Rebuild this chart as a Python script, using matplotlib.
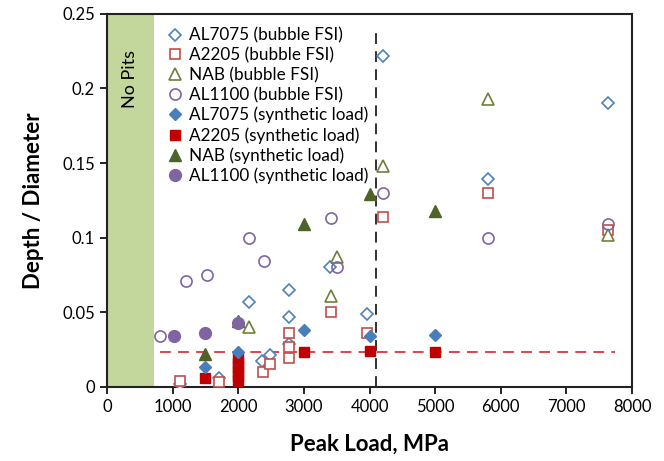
import matplotlib
matplotlib.use("Agg")
import matplotlib.pyplot as plt
from matplotlib.ticker import FuncFormatter

plt.rcParams["font.family"] = ["Lato", "DejaVu Sans"]

# Bubble FSI results (open markers)
al7075_fsi_x = [1120, 1700, 2160, 2360, 2480, 2770, 2770, 2770, 3400, 3960, 4200, 5800, 7640]
al7075_fsi_y = [0.002, 0.006, 0.057, 0.017, 0.021, 0.065, 0.047, 0.029, 0.080, 0.049, 0.222, 0.139, 0.190]

a2205_fsi_x = [1120, 1700, 2370, 2480, 2770, 2770, 2770, 3410, 3960, 4200, 5800, 7640]
a2205_fsi_y = [0.004, 0.003, 0.010, 0.015, 0.036, 0.027, 0.019, 0.050, 0.036, 0.114, 0.130, 0.105]

nab_fsi_x = [2160, 3410, 3500, 4210, 5800, 7640]
nab_fsi_y = [0.040, 0.061, 0.087, 0.148, 0.193, 0.102]

al1100_fsi_x = [810, 1200, 1520, 2170, 2400, 3410, 3500, 4200, 5800, 7640]
al1100_fsi_y = [0.034, 0.071, 0.075, 0.100, 0.084, 0.113, 0.080, 0.130, 0.100, 0.109]

# Synthetic load results (filled markers)
al7075_syn_x = [1500, 2000, 3000, 4000, 5000]
al7075_syn_y = [0.013, 0.023, 0.038, 0.034, 0.035]

a2205_syn_x = [1500, 2000, 2000, 2000, 2000, 2000, 2000, 3000, 4000, 5000]
a2205_syn_y = [0.006, 0.004, 0.007, 0.010, 0.013, 0.016, 0.019, 0.023, 0.024, 0.023]

nab_syn_x = [1500, 2000, 3000, 4000, 5000]
nab_syn_y = [0.022, 0.044, 0.109, 0.129, 0.118]

al1100_syn_x = [1020, 1500, 2000]
al1100_syn_y = [0.034, 0.036, 0.043]

# Reference lines and no-pit region
no_pits_limit = 710
threshold_load = 4100
threshold_ratio = 0.023

fig = plt.figure(figsize=(6.64, 4.61), dpi=100)
ax = fig.add_axes([0.161, 0.161, 0.791, 0.809])

ax.axvspan(0, no_pits_limit, color="#C3D69B", zorder=0, lw=0)
ax.text(no_pits_limit / 2, 0.206, "No Pits", rotation=90, ha="center", va="center",
        fontsize=13, color="black")

ax.axvline(threshold_load, ymin=0, ymax=0.96, color="#222222", ls=(0, (6, 4)), lw=1.3, zorder=1)
ax.plot([810, 7740], [threshold_ratio, threshold_ratio], color="#D9363E",
        ls=(0, (6, 4)), lw=1.3, zorder=1)

ms_open = 7.5
ax.plot(al7075_fsi_x, al7075_fsi_y, ls="none", marker="D", ms=6, mfc="white",
        mec="#4F81BD", mew=1.2, label="AL7075 (bubble FSI)", zorder=3)
ax.plot(a2205_fsi_x, a2205_fsi_y, ls="none", marker="s", ms=ms_open, mfc="white",
        mec="#C0504D", mew=1.2, label="A2205 (bubble FSI)", zorder=3)
ax.plot(nab_fsi_x, nab_fsi_y, ls="none", marker="^", ms=8, mfc="white",
        mec="#6E7F3A", mew=1.2, label="NAB (bubble FSI)", zorder=3)
ax.plot(al1100_fsi_x, al1100_fsi_y, ls="none", marker="o", ms=8, mfc="none",
        mec="#8064A2", mew=1.2, label="AL1100 (bubble FSI)", zorder=3)

ax.plot(al7075_syn_x, al7075_syn_y, ls="none", marker="D", ms=6, color="#4A7EBB",
        label="AL7075 (synthetic load)", zorder=5)
ax.plot(a2205_syn_x, a2205_syn_y, ls="none", marker="s", ms=7.5, color="#C00000",
        label="A2205 (synthetic load)", zorder=4)
ax.plot(nab_syn_x, nab_syn_y, ls="none", marker="^", ms=8.5, color="#4F6228",
        label="NAB (synthetic load)", zorder=4)
ax.plot(al1100_syn_x, al1100_syn_y, ls="none", marker="o", ms=8.5, color="#8064A2",
        label="AL1100 (synthetic load)", zorder=5)

ax.set_xlim(0, 8000)
ax.set_ylim(0, 0.25)
ax.set_xticks(range(0, 8001, 1000))
ax.set_yticks([0, 0.05, 0.1, 0.15, 0.2, 0.25])
ax.yaxis.set_major_formatter(FuncFormatter(lambda v, p: f"{v:g}"))
ax.tick_params(direction="out", length=5, width=1.2, labelsize=12, colors="black")
for s in ax.spines.values():
    s.set_linewidth(1.5)
    s.set_color("#222222")

ax.set_xlabel("Peak Load, MPa", fontsize=16, fontweight="bold", labelpad=14)
ax.set_ylabel("Depth / Diameter", fontsize=16, fontweight="bold", labelpad=13)

leg = ax.legend(loc="upper left", bbox_to_anchor=(0.103, 0.982), frameon=False,
                fontsize=12.3, handlelength=0.8, handletextpad=0.45,
                labelspacing=0.22, borderaxespad=0)

fig.savefig("out.png", dpi=100)
